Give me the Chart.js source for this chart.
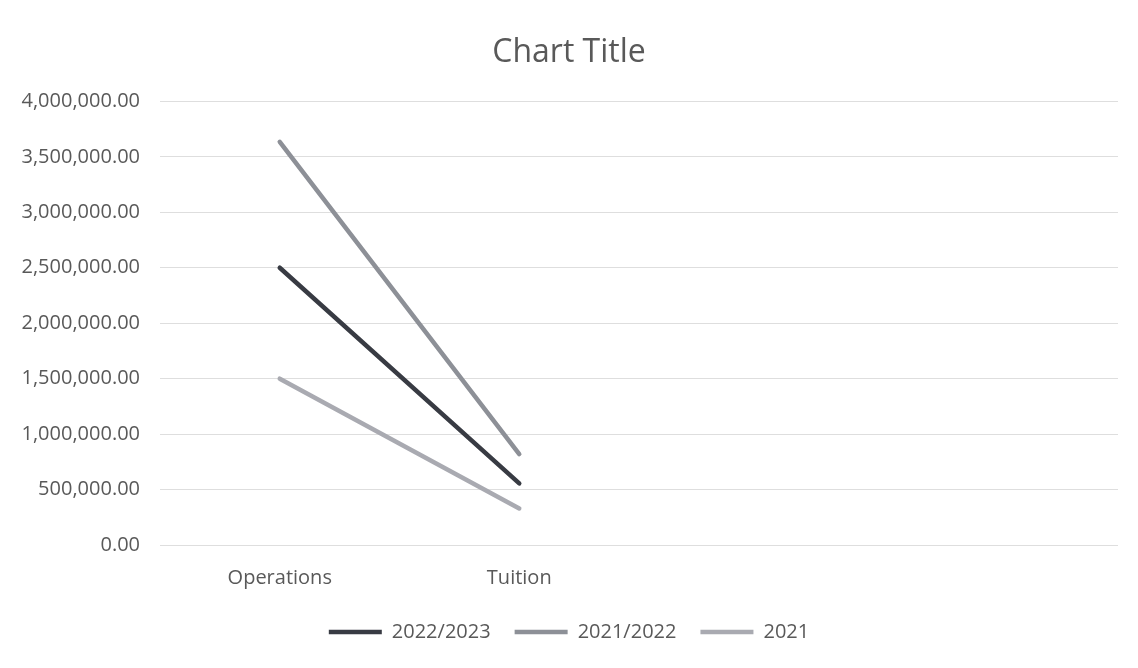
<!DOCTYPE html>
<html>
<head>
<meta charset="utf-8">
<title>Chart Title</title>
<script src="https://cdn.jsdelivr.net/npm/chart.js@4/dist/chart.umd.min.js"></script>
<style>
  html, body { margin: 0; padding: 0; background: #fff; }
  #wrap { width: 1138px; height: 668px; position: relative; }
</style>
</head>
<body>
<div id="wrap"><canvas id="budgetChart"></canvas></div>
<script>
const categories = ['Operations', 'Tuition', '', ''];
const seriesNames = ['2022/2023', '2021/2022', '2021'];
const values2223 = [2500000, 555000];
const values2122 = [3635000, 820000];
const values2021 = [1500000, 330000];
const yTicks = [0, 500000, 1000000, 1500000, 2000000, 2500000, 3000000, 3500000, 4000000];

const lineColors = ['#383b43', '#8d9097', '#a9aab1'];
const textColor = '#595959';
const fontFamily = '"Open Sans", "Noto Sans", sans-serif';

const makeSet = (i, data) => ({
  label: seriesNames[i],
  data: data,
  borderColor: lineColors[i],
  backgroundColor: lineColors[i],
  borderWidth: 4.5,
  borderCapStyle: 'round',
  pointRadius: 0,
  tension: 0
});

const ctx = document.getElementById('budgetChart').getContext('2d');

const budgetChart = new Chart(ctx, {
  type: 'line',
  data: {
    labels: categories,
    datasets: [
      makeSet(0, values2223),
      makeSet(1, values2122),
      makeSet(2, values2021)
    ]
  },
  options: {
    responsive: true,
    maintainAspectRatio: false,
    animation: false,
    layout: {
      padding: { left: 20, right: 20, top: 0, bottom: 16 }
    },
    plugins: {
      title: {
        display: true,
        text: 'Chart Title',
        color: textColor,
        font: { family: fontFamily, size: 32, weight: 'normal' },
        padding: { top: 34, bottom: 29 }
      },
      legend: {
        position: 'bottom',
        labels: {
          usePointStyle: true,
          pointStyle: 'line',
          pointStyleWidth: 53,
          padding: 24,
          color: textColor,
          font: { family: fontFamily, size: 20 }
        }
      },
      tooltip: { enabled: false }
    },
    scales: {
      x: {
        offset: true,
        afterFit: scale => { scale.height = 53; },
        grid: { display: false },
        border: { display: false },
        ticks: {
          color: textColor,
          padding: 13,
          font: { family: fontFamily, size: 20 }
        }
      },
      y: {
        min: 0,
        max: 4000000,
        afterFit: scale => { scale.width = 140; },
        afterBuildTicks: scale => { scale.ticks = yTicks.map(v => ({ value: v })); },
        grid: { color: '#dedede', lineWidth: 1, drawTicks: false },
        border: { display: false },
        ticks: {
          color: textColor,
          padding: 20,
          font: { family: fontFamily, size: 20 },
          callback: v => v.toLocaleString('en-US', { minimumFractionDigits: 2, maximumFractionDigits: 2 })
        }
      }
    }
  }
});
</script>
</body>
</html>
